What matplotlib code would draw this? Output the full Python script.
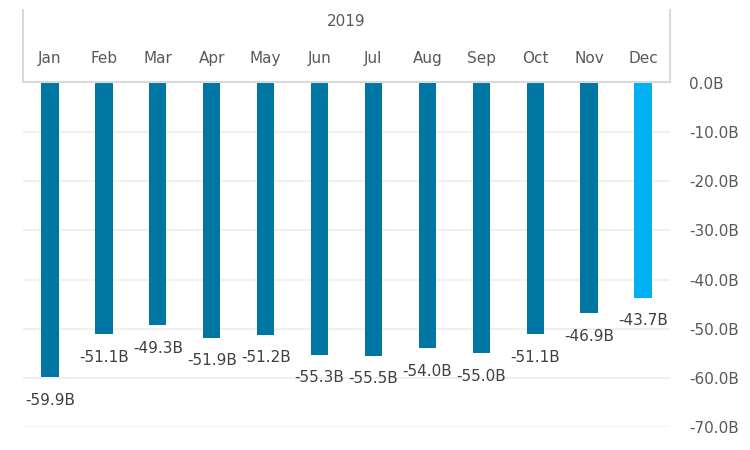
from matplotlib import pyplot as plt
from matplotlib.lines import Line2D

months = ['Jan', 'Feb', 'Mar', 'Apr', 'May', 'Jun', 'Jul', 'Aug', 'Sep', 'Oct', 'Nov', 'Dec']
values = [-59.9, -51.1, -49.3, -51.9, -51.2, -55.3, -55.5, -54.0, -55.0, -51.1, -46.9, -43.7]
year_label = '2019'
y_ticks = [0, -10, -20, -30, -40, -50, -60, -70]

dark_blue = '#0076A3'
light_blue = '#00B0F0'
colors = [dark_blue] * (len(months) - 1) + [light_blue]

W, H = 750, 450
fig = plt.figure(figsize=(7.5, 4.5), dpi=100)
ax = fig.add_axes([23 / W, 1 - 427 / H, (670 - 23) / W, (427 - 83) / H])

x = range(len(months))
ax.bar(x, values, width=0.32, color=colors, zorder=2)
ax.set_xlim(-0.5, len(months) - 0.5)
ax.set_ylim(-70, 0)

# подписи значений под столбцами
for xi, v in zip(x, values):
    ax.annotate(f'{v:.1f}B', (xi, v), xytext=(0, -16.5), textcoords='offset points',
                ha='center', va='center', fontsize=11, color='#404040')

# сетка
for t in y_ticks[1:]:
    ax.axhline(t, color='#F0F0F0', linewidth=1.5, zorder=1)

ax.set_yticks(y_ticks)
ax.set_yticklabels([f'{t:.1f}B' for t in y_ticks])
ax.yaxis.tick_right()
ax.tick_params(axis='y', length=0, pad=14, labelsize=11, labelcolor='#595959')
for lab in ax.get_yticklabels():
    lab.set_horizontalalignment('left')

ax.set_xticks(list(x))
ax.set_xticklabels(months)
ax.xaxis.tick_top()
ax.tick_params(axis='x', length=0, pad=12, labelsize=11, labelcolor='#595959')

for s in ax.spines.values():
    s.set_visible(False)

# рамка заголовка категорий
box_color = '#D9D9D9'
fx = lambda px: px / W
fy = lambda py: 1 - py / H
fig.add_artist(Line2D([fx(23), fx(23)], [fy(10), fy(82)], color=box_color, lw=1.5))
fig.add_artist(Line2D([fx(670), fx(670)], [fy(10), fy(82)], color=box_color, lw=1.5))
fig.add_artist(Line2D([fx(23), fx(670)], [fy(82), fy(82)], color=box_color, lw=1.5))
fig.text(fx(346), fy(21), year_label, ha='center', va='center', fontsize=11, color='#595959')

fig.savefig('out.png', dpi=100)
